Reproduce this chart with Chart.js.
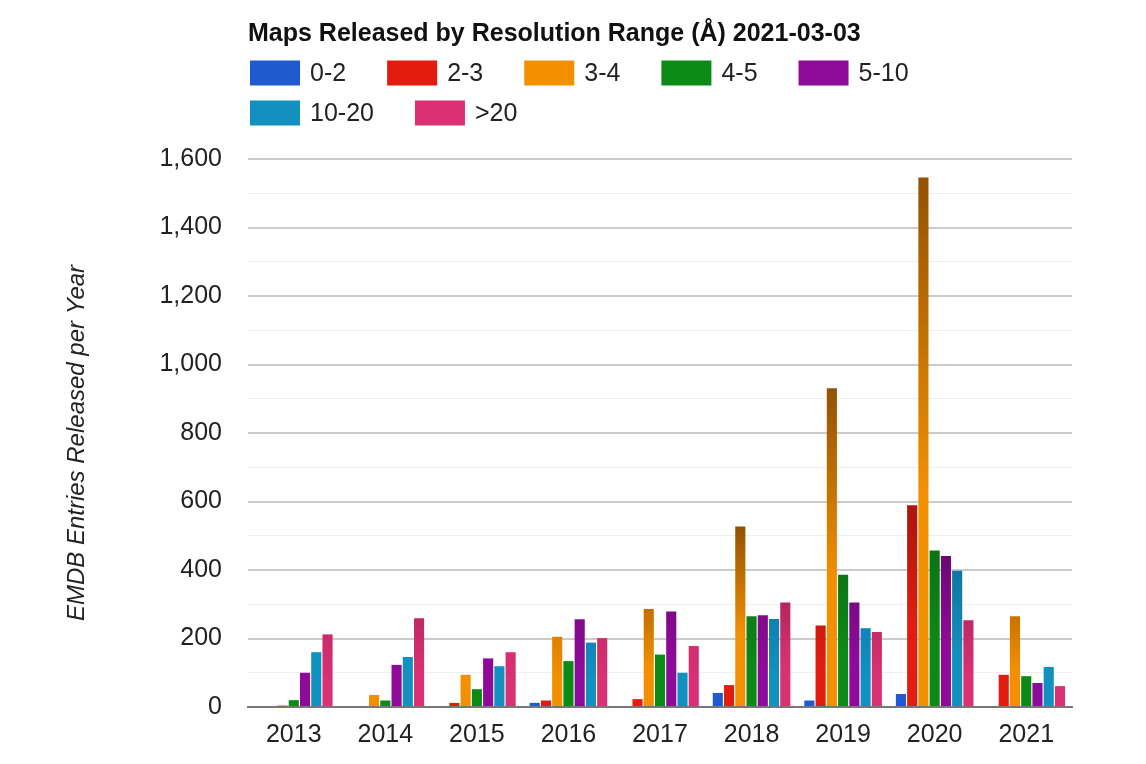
<!DOCTYPE html>
<html>
<head>
<meta charset="utf-8">
<script src="https://cdn.jsdelivr.net/npm/chart.js@4"></script>
<style>html,body{margin:0;padding:0;background:#fff;overflow:hidden}</style>
</head>
<body>
<canvas id="c" width="1146" height="764"></canvas>
<script>
// ---- data ----
const years = ['2013','2014','2015','2016','2017','2018','2019','2020','2021'];
const seriesLabels = ['0-2','2-3','3-4','4-5','5-10','10-20','>20'];
const res0to2   = [0, 0, 0, 12, 0, 41, 19, 38, 0];
const res2to3   = [0, 0, 12, 19, 23, 64, 238, 589, 94];
const res3to4   = [5, 35, 94, 205, 286, 527, 931, 1546, 265];
const res4to5   = [20, 19, 52, 134, 153, 265, 386, 457, 90];
const res5to10  = [100, 123, 142, 256, 279, 268, 305, 441, 70];
const res10to20 = [160, 146, 119, 188, 100, 257, 230, 398, 117];
const resOver20 = [212, 259, 160, 201, 178, 305, 219, 253, 61];
const yMax = 1600;
const yStep = 100;
const titleText = 'Maps Released by Resolution Range (Å) 2021-03-03';
const yTitleText = 'EMDB Entries Released per Year';

// ---- styles ----
const colors = ['#1f5bcf', '#e21d10', '#f39000', '#0c8a16', '#8e0b99', '#1290bf', '#d93173'];
const shadeFactor = [0.5, 0.6, 1, 0.3, 0.6, 0.4, 0.8];
const FONT = '"Liberation Sans", Arial, Helvetica, sans-serif';

function darken(hex, amt) {
  const r = parseInt(hex.slice(1,3),16), g = parseInt(hex.slice(3,5),16), b = parseInt(hex.slice(5,7),16);
  const f = 1 - amt;
  return `rgb(${Math.round(r*f)},${Math.round(g*f*0.95)},${Math.round(b*f)})`;
}
function barFill(i) {
  const base = colors[i];
  return (c) => {
    const chart = c.chart;
    if (c.type !== 'data' || !chart.chartArea || !chart.scales.y) return base;
    const v = c.raw;
    const ys = chart.scales.y;
    const top = ys.getPixelForValue(v), bot = ys.getPixelForValue(0);
    const amt = shadeFactor[i] * Math.max(0, Math.min(0.4, (v - 150) / 700));
    if (amt <= 0.01 || bot - top < 2) return base;
    const g = chart.ctx.createLinearGradient(0, top, 0, bot);
    g.addColorStop(0, darken(base, amt));
    g.addColorStop(0.6, base);
    g.addColorStop(1, base);
    return g;
  };
}

const seriesValues = [res0to2, res2to3, res3to4, res4to5, res5to10, res10to20, resOver20];
const datasets = seriesLabels.map((lab, i) => ({
  label: lab,
  data: seriesValues[i],
  backgroundColor: barFill(i),
  borderWidth: 0,
  categoryPercentage: 0.86,
  barPercentage: 0.9
}));

const customLegend = {
  id: 'customLegend',
  afterDraw(chart) {
    const ctx = chart.ctx;
    const left = chart.chartArea.left + 2;
    const rows = [[0,1,2,3,4],[5,6]];
    const rowY = [73, 113];
    ctx.save();
    ctx.font = '25px ' + FONT;
    ctx.textBaseline = 'middle';
    ctx.textAlign = 'left';
    rows.forEach((row, ri) => {
      let x = left;
      const y = rowY[ri];
      row.forEach(i => {
        ctx.fillStyle = colors[i];
        ctx.fillRect(x, y - 12.5, 50, 25);
        ctx.fillStyle = '#222';
        ctx.fillText(seriesLabels[i], x + 60, y + 1);
        x += 60 + ctx.measureText(seriesLabels[i]).width + 41;
      });
    });
    ctx.restore();
  }
};

new Chart(document.getElementById('c'), {
  type: 'bar',
  data: { labels: years, datasets },
  options: {
    responsive: false,
    animation: false,
    layout: { padding: { left: 0, right: 74, top: 0, bottom: 1 } },
    plugins: {
      legend: { display: false },
      tooltip: { enabled: false },
      title: {
        display: true,
        text: titleText,
        align: 'start',
        fullSize: false,
        color: '#111',
        font: { family: FONT, size: 25, weight: 'bold' },
        padding: { top: 19, bottom: 110 }
      }
    },
    scales: {
      x: {
        grid: { display: false, drawTicks: false },
        border: { display: true, color: '#777', width: 2 },
        ticks: { color: '#222', padding: 13, font: { family: FONT, size: 25 }, maxRotation: 0 }
      },
      y: {
        min: 0,
        max: yMax,
        afterFit(scale) { scale.width = 248; },
        border: { display: false },
        grid: {
          drawTicks: false,
          color: (c) => (c.tick && c.tick.value % 200 === 0) ? '#cbcbcb' : '#efefef',
          lineWidth: (c) => (c.tick && c.tick.value % 200 === 0) ? 2 : 1
        },
        ticks: {
          stepSize: yStep,
          autoSkip: false,
          padding: 26,
          color: '#222',
          font: { family: FONT, size: 25 },
          callback: (v) => (v % 200 === 0) ? v.toLocaleString('en-US') : ''
        },
        title: {
          display: true,
          text: yTitleText + '   ',
          color: '#222',
          font: { family: FONT, size: 24, style: 'italic' },
          padding: { top: 63, bottom: 0 }
        }
      }
    }
  },
  plugins: [customLegend]
});
</script>
</body>
</html>
